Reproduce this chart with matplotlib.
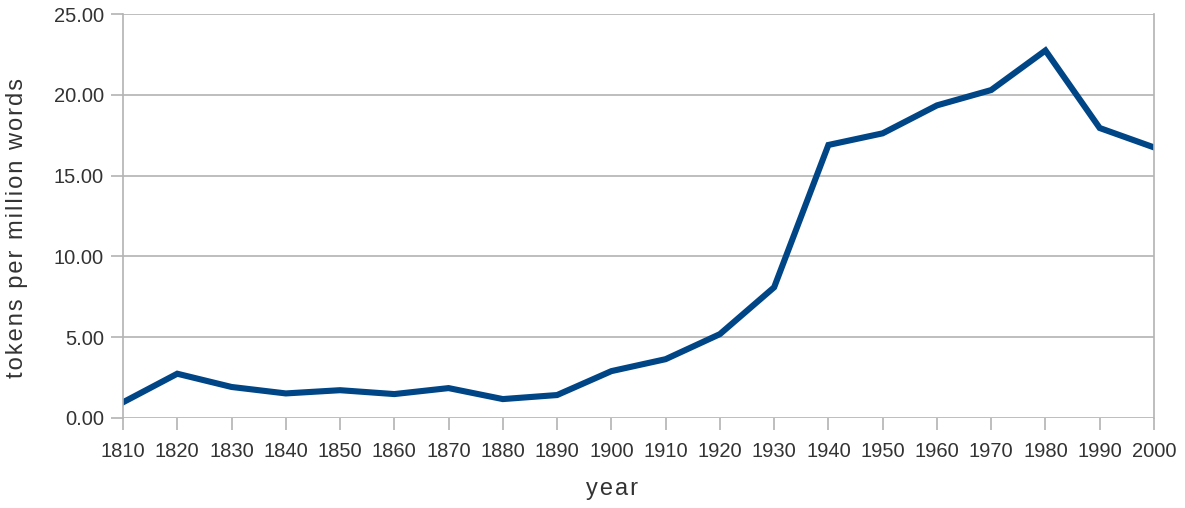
import matplotlib
matplotlib.use('Agg')
import matplotlib.pyplot as plt

years = [1810, 1820, 1830, 1840, 1850, 1860, 1870, 1880, 1890, 1900,
         1910, 1920, 1930, 1940, 1950, 1960, 1970, 1980, 1990, 2000]
tokens = [0.97, 2.74, 1.92, 1.52, 1.72, 1.48, 1.85, 1.17, 1.42, 2.90,
          3.64, 5.19, 8.09, 16.90, 17.62, 19.35, 20.30, 22.75, 17.95, 16.75]
yticks = [0, 5, 10, 15, 20, 25]

plt.rcParams['font.family'] = ['Liberation Sans', 'DejaVu Sans']

def spaced(s):
    # the original labels have letter spacing
    return '\u200a'.join(s)

fig = plt.figure(figsize=(11.85, 5.08), dpi=100)
ax = fig.add_axes([0.1038, 0.1772, 0.870, 0.795])

ax.plot(years, tokens, color='#004586', linewidth=4.4, solid_joinstyle='miter')

ax.set_xlim(1810, 2000)
ax.set_ylim(0, 25)
ax.set_xticks(years)
ax.set_xticklabels([str(y) for y in years])
ax.set_yticks(yticks)
ax.set_yticklabels(['%.2f' % v for v in yticks])

ax.grid(axis='y', color='#b3b3b3', linewidth=1.2)
ax.set_axisbelow(True)
for side in ['top', 'bottom']:
    ax.spines[side].set_visible(False)
for side in ['left', 'right']:
    ax.spines[side].set_color('#b3b3b3')
    ax.spines[side].set_linewidth(1.2)

ax.tick_params(axis='both', colors='#b3b3b3', width=1.2, length=8.6,
               labelcolor='#333333', labelsize=14.5)
ax.tick_params(axis='x', pad=9)
ax.tick_params(axis='y', pad=5)

ax.set_xlabel(spaced('year'), fontsize=17, color='#333333')
ax.set_ylabel(spaced('tokens per million words'), fontsize=17, color='#333333')
ax.xaxis.set_label_coords(0.474, -0.148)
ax.yaxis.set_label_coords(-0.092, 0.47)

fig.savefig('out.png', dpi=100)
